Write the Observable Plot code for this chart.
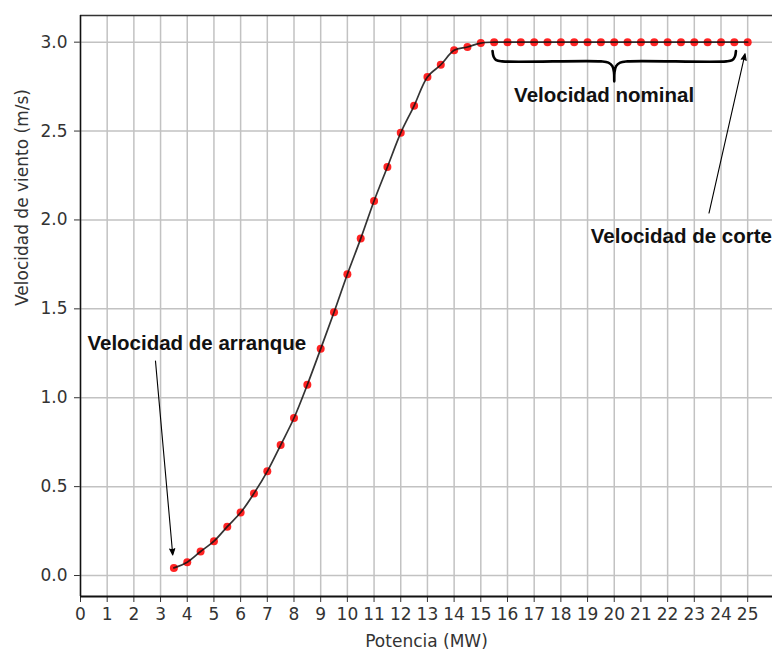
<!DOCTYPE html>
<html>
<head>
<meta charset="utf-8">
<script src="https://cdn.jsdelivr.net/npm/d3@7"></script>
<script src="https://cdn.jsdelivr.net/npm/@observablehq/plot@0.6"></script>
<style>
  body { margin: 0; background: #fff; }
  #chart svg { display: block; }
</style>
</head>
<body>
<div id="chart"></div>
<script>
// Power curve points: potencia (MW) and velocidad de viento (m/s)
const potencia = [3.5, 4, 4.5, 5, 5.5, 6, 6.5, 7, 7.5, 8, 8.5, 9, 9.5, 10, 10.5, 11, 11.5, 12, 12.5, 13, 13.5, 14, 14.5, 15,
  15.5, 16, 16.5, 17, 17.5, 18, 18.5, 19, 19.5, 20, 20.5, 21, 21.5, 22, 22.5, 23, 23.5, 24, 24.5, 25];
const velocidad = [0.043, 0.075, 0.135, 0.193, 0.275, 0.354, 0.462, 0.586, 0.734, 0.886, 1.073, 1.275, 1.481, 1.695, 1.895, 2.107, 2.298, 2.49, 2.642, 2.804, 2.873, 2.954, 2.973, 2.995,
  3.0, 3.0, 3.0, 3.0, 3.0, 3.0, 3.0, 3.0, 3.0, 3.0, 3.0, 3.0, 3.0, 3.0, 3.0, 3.0, 3.0, 3.0, 3.0, 3.0];

const xTicks = [0, 1, 2, 3, 4, 5, 6, 7, 8, 9, 10, 11, 12, 13, 14, 15, 16, 17, 18, 19, 20, 21, 22, 23, 24, 25];
const yTicks = [0, 0.5, 1.0, 1.5, 2.0, 2.5, 3.0];

const xLabel = "Potencia (MW)";
const yLabel = "Velocidad de viento (m/s)";
const labelArranque = "Velocidad de arranque";
const labelNominal = "Velocidad nominal";
const labelCorte = "Velocidad de corte";

const points = potencia.map((x, i) => ({x, y: velocidad[i]}));
const first = points[0];
const last = points[points.length - 1];
// rated-speed plateau (before the cut-out point), drawn with a brace underneath
const plateau = points.filter(d => d.y >= 3.0 && d !== last);
const bx0 = plateau[0].x - 0.06, bx1 = plateau[plateau.length - 1].x + 0.06, bxm = (bx0 + bx1) / 2;
const braceTop = 2.95, braceMid = 2.892, braceTip = 2.779;
const braceLeft = [
  [bx0, braceTop], [bx0 + 0.04, 2.918], [bx0 + 0.14, 2.899], [bx0 + 0.36, braceMid],
  [bxm - 0.5, braceMid], [bxm - 0.22, 2.885], [bxm - 0.07, 2.865], [bxm - 0.01, 2.83], [bxm, braceTip]
];
const brace = braceLeft.concat(braceLeft.slice(0, -1).reverse().map(([x, y]) => [2 * bxm - x, y]))
  .map(([x, y]) => ({x, y}));

const yDomain = [-0.118, 3.15];
const boldFont = "'Liberation Sans', Arial, sans-serif";

const chart = Plot.plot({
  width: 772,
  height: 649,
  marginLeft: 80,
  marginRight: 0,
  marginTop: 15,
  marginBottom: 53,
  style: {fontFamily: "'DejaVu Sans', sans-serif", fontSize: "17px", color: "#333", background: "#fff"},
  x: {domain: [0, 25.93], ticks: xTicks, tickSize: 6, tickPadding: 5, tickFormat: d => String(d), label: null},
  y: {domain: yDomain, ticks: yTicks, tickSize: 6, tickPadding: 7, tickFormat: d => d.toFixed(1), label: null},
  marks: [
    // grid
    Plot.ruleX(xTicks, {stroke: "#c2c2c2", strokeWidth: 1.5}),
    Plot.ruleY(yTicks, {stroke: "#c2c2c2", strokeWidth: 1.5}),
    // spines
    Plot.ruleY([yDomain[1]], {stroke: "#333", strokeWidth: 1.5}),
    Plot.ruleX([0], {stroke: "#111", strokeWidth: 1.5}),
    Plot.ruleY([yDomain[0]], {stroke: "#111", strokeWidth: 2}),
    // data
    Plot.dot(points, {x: "x", y: "y", r: 4, fill: "#ff1010", fillOpacity: 0.92, stroke: "none"}),
    Plot.line(points, {x: "x", y: "y", stroke: "#111", strokeWidth: 1.7, strokeOpacity: 0.85, curve: "catmull-rom"}),
    // brace under the rated-speed plateau
    Plot.line(brace, {x: "x", y: "y", stroke: "#000", strokeWidth: 2.6, curve: "catmull-rom"}),
    // arrows
    Plot.arrow([{x1: 2.81, y1: 1.206, x2: first.x, y2: first.y}], {
      x1: "x1", y1: "y1", x2: "x2", y2: "y2", insetEnd: 13, headLength: 9, headAngle: 45,
      stroke: "#000", fill: "#000", strokeWidth: 1.1
    }),
    Plot.arrow([{x1: 23.55, y1: 2.039, x2: last.x, y2: last.y}], {
      x1: "x1", y1: "y1", x2: "x2", y2: "y2", insetEnd: 12, headLength: 9, headAngle: 45,
      stroke: "#000", fill: "#000", strokeWidth: 1.1
    }),
    // annotation labels
    Plot.text([labelArranque], {x: 0.26, y: 1.304, text: d => d, textAnchor: "start",
      fontFamily: boldFont, fontWeight: "bold", fontSize: 20.5, fill: "#111"}),
    Plot.text([labelNominal], {x: 19.62, y: 2.702, text: d => d, textAnchor: "middle",
      fontFamily: boldFont, fontWeight: "bold", fontSize: 20.5, fill: "#111"}),
    Plot.text([labelCorte], {x: 19.12, y: 1.906, text: d => d, textAnchor: "start",
      fontFamily: boldFont, fontWeight: "bold", fontSize: 20.5, fill: "#111"}),
    // axis titles
    Plot.text([yLabel], {frameAnchor: "left", dx: -58, rotate: -90, text: d => d, fontSize: 17, fill: "#333"}),
    Plot.text([xLabel], {frameAnchor: "bottom", dy: 50, text: d => d, fontSize: 17, fill: "#333"})
  ]
});

document.getElementById("chart").appendChild(chart);
</script>
</body>
</html>
